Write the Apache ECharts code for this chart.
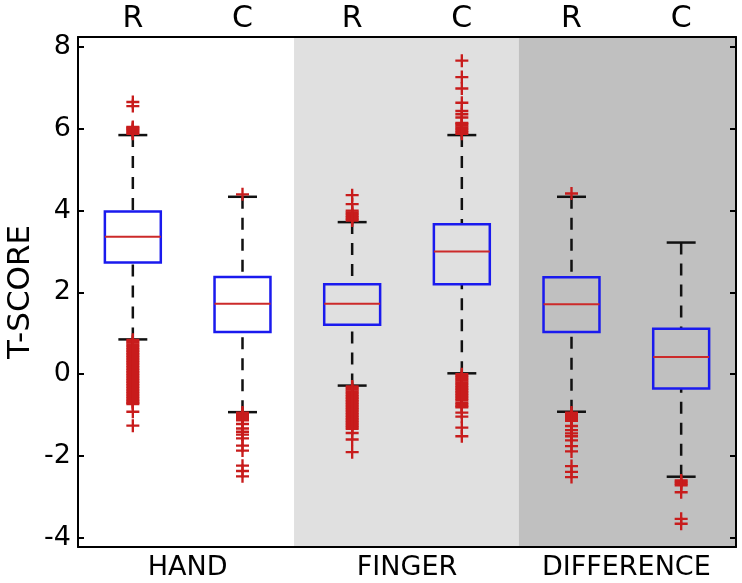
<!DOCTYPE html>
<html>
<head>
<meta charset="utf-8">
<script src="https://cdn.jsdelivr.net/npm/echarts@6/dist/echarts.min.js"></script>
<style>html,body{margin:0;padding:0;background:#fff}#chart{width:742px;height:583px}</style>
</head>
<body>
<div id="chart"></div>
<script>
// ---- data ----
const categories = ['HAND R', 'HAND C', 'FINGER R', 'FINGER C', 'DIFFERENCE R', 'DIFFERENCE C'];
const topLabels = ['R', 'C', 'R', 'C', 'R', 'C'];
const groupLabels = ['HAND', 'FINGER', 'DIFFERENCE'];
const yTicks = [-4, -2, 0, 2, 4, 6, 8];

const lowWhisker  = [0.85, -0.93, -0.28, 0.02, -0.92, -2.51];
const q1          = [2.73,  1.03,  1.21, 2.20,  1.03, -0.35];
const median      = [3.36,  1.72,  1.72, 3.00,  1.71,  0.42];
const q3          = [3.98,  2.38,  2.20, 3.67,  2.37,  1.11];
const highWhisker = [5.85,  4.34,  3.72, 5.85,  4.34,  3.22];

const outliersHandR = [5.88, 5.91, 5.94, 5.97, 6.00, 6.03, 6.05, 6.56, 6.66,
  0.84, 0.80, 0.77, 0.73, 0.69, 0.65, 0.61, 0.57, 0.53, 0.49, 0.45, 0.41, 0.37, 0.33,
  0.29, 0.25, 0.21, 0.17, 0.13, 0.09, 0.05, 0.01, -0.03, -0.07, -0.11, -0.15, -0.19,
  -0.23, -0.27, -0.31, -0.35, -0.39, -0.43, -0.47, -0.51, -0.55, -0.59, -0.63, -0.67,
  -0.70, -0.73, -0.92, -1.26];
const outliersHandC = [4.40, -0.94, -0.98, -1.02, -1.06, -1.10, -1.13, -1.22, -1.33,
  -1.41, -1.48, -1.57, -1.75, -1.87, -2.24, -2.37, -2.50];
const outliersFingerR = [3.76, 3.80, 3.84, 3.88, 3.92, 3.96, 4.00, 4.16, 4.38,
  -0.30, -0.34, -0.38, -0.42, -0.46, -0.50, -0.54, -0.58, -0.62, -0.66, -0.70, -0.74,
  -0.78, -0.82, -0.86, -0.90, -0.94, -0.98, -1.02, -1.06, -1.10, -1.14, -1.18, -1.22,
  -1.26, -1.30, -1.34, -1.44, -1.60, -1.91];
const outliersFingerC = [5.88, 5.92, 5.96, 6.00, 6.04, 6.08, 6.12, 6.15, 6.28, 6.36,
  6.44, 6.64, 6.99, 7.27, 7.67,
  0.00, -0.04, -0.08, -0.12, -0.16, -0.20, -0.24, -0.28, -0.32, -0.36, -0.40, -0.44,
  -0.48, -0.52, -0.56, -0.60, -0.64, -0.70, -0.74, -0.78, -0.81, -0.94, -1.04, -1.31, -1.52];
const outliersDiffR = [4.42, -0.94, -0.98, -1.02, -1.06, -1.10, -1.14, -1.27, -1.37,
  -1.45, -1.52, -1.62, -1.76, -1.89, -2.25, -2.39, -2.52];
const outliersDiffC = [-2.60, -2.64, -2.68, -2.72, -2.89, -3.54, -3.66];

const outlierLists = [outliersHandR, outliersHandC, outliersFingerR, outliersFingerC, outliersDiffR, outliersDiffC];

// background shading bands (in units of category slots, 0..6)
const bandStarts = [1.97, 4.02];
const bandEnds = [4.02, 6.0];
const bandColors = ['#e0e0e0', '#c0c0c0'];

// ---- build ----
const boxData = categories.map((c, i) => [i, lowWhisker[i], q1[i], median[i], q3[i], highWhisker[i]]);
const outlierData = [];
outlierLists.forEach((arr, i) => arr.forEach(v => outlierData.push([i, v])));
const bandData = bandStarts.map((s, i) => [s, bandEnds[i]]);

const FONT = 'DejaVu Sans';
const YMIN = -4.23, YMAX = 8.25;
const PLUS = 'path://M4.1,0H5.9V4.1H10V5.9H5.9V10H4.1V5.9H0V4.1H4.1Z';

const chart = echarts.init(document.getElementById('chart'), null, {renderer: 'canvas'});
chart.setOption({
  backgroundColor: '#ffffff',
  animation: false,
  grid: {left: 78, right: 6, top: 37, bottom: 36, containLabel: false, outerBoundsMode: 'none'},
  xAxis: [
    {
      type: 'category', data: categories, position: 'top', boundaryGap: true,
      axisLine: {show: true, onZero: false, lineStyle: {color: '#000', width: 2}},
      axisTick: {show: false},
      axisLabel: {interval: 0, hideOverlap: false, formatter: (v, i) => topLabels[i], fontFamily: FONT, fontSize: 30, color: '#000', margin: 3},
      splitLine: {show: false}
    },
    {
      type: 'category', data: groupLabels, position: 'bottom', boundaryGap: true,
      axisLine: {show: true, onZero: false, lineStyle: {color: '#000', width: 2}},
      axisTick: {show: false},
      axisLabel: {interval: 0, hideOverlap: false, fontFamily: FONT, fontSize: 27, color: '#000', margin: 7},
      splitLine: {show: false}
    },
    {
      type: 'value', min: 0, max: 6, show: false,
      axisLine: {onZero: false}
    }
  ],
  yAxis: [
    {
      type: 'value', min: YMIN, max: YMAX, position: 'left',
      name: 'T-SCORE', nameLocation: 'middle', nameGap: 42, nameRotate: 90, nameMoveOverlap: false,
      nameTextStyle: {fontFamily: FONT, fontSize: 31, color: '#000'},
      axisLine: {show: true, onZero: false, lineStyle: {color: '#000', width: 2}},
      axisTick: {show: true, inside: true, length: 6, customValues: yTicks, lineStyle: {color: '#000', width: 2}},
      axisLabel: {customValues: yTicks, fontFamily: FONT, fontSize: 27, color: '#000', margin: 7},
      splitLine: {show: false}
    },
    {
      type: 'value', min: YMIN, max: YMAX, position: 'right',
      axisLine: {show: true, onZero: false, lineStyle: {color: '#000', width: 2}},
      axisTick: {show: true, inside: true, length: 6, customValues: yTicks, lineStyle: {color: '#000', width: 2}},
      axisLabel: {show: false},
      splitLine: {show: false}
    }
  ],
  series: [
    {
      type: 'custom', xAxisIndex: 2, yAxisIndex: 0, z: -1, silent: true,
      data: bandData,
      renderItem: function (params, api) {
        const cs = params.coordSys;
        const x0 = api.coord([api.value(0), 0])[0];
        const x1 = api.coord([api.value(1), 0])[0];
        return {
          type: 'rect',
          shape: {x: x0, y: cs.y, width: x1 - x0, height: cs.height},
          style: {fill: bandColors[params.dataIndex]}
        };
      }
    },
    {
      type: 'custom', xAxisIndex: 0, yAxisIndex: 0, z: 3,
      data: boxData,
      renderItem: function (params, api) {
        const i = api.value(0);
        const bw = api.size([1, 0])[0];
        const pLW = api.coord([i, api.value(1)]);
        const pQ1 = api.coord([i, api.value(2)]);
        const pMd = api.coord([i, api.value(3)]);
        const pQ3 = api.coord([i, api.value(4)]);
        const pHW = api.coord([i, api.value(5)]);
        const cx = pQ1[0];
        const hb = bw * 0.255, hc = bw * 0.132;
        const dash = {stroke: '#111', lineWidth: 2.5, lineDash: [12, 9]};
        const solid = {stroke: '#111', lineWidth: 2.5};
        return {
          type: 'group',
          children: [
            {type: 'line', shape: {x1: cx, y1: pLW[1], x2: cx, y2: pQ1[1]}, style: dash},
            {type: 'line', shape: {x1: cx, y1: pHW[1], x2: cx, y2: pQ3[1]}, style: dash},
            {type: 'line', shape: {x1: cx - hc, y1: pLW[1], x2: cx + hc, y2: pLW[1]}, style: solid},
            {type: 'line', shape: {x1: cx - hc, y1: pHW[1], x2: cx + hc, y2: pHW[1]}, style: solid},
            {type: 'rect', shape: {x: cx - hb, y: pQ3[1], width: 2 * hb, height: pQ1[1] - pQ3[1]},
              style: {fill: 'none', stroke: '#1a1aee', lineWidth: 2.5}},
            {type: 'line', shape: {x1: cx - hb, y1: pMd[1], x2: cx + hb, y2: pMd[1]},
              style: {stroke: '#cc2a2a', lineWidth: 2}}
          ]
        };
      }
    },
    {
      type: 'scatter', xAxisIndex: 0, yAxisIndex: 0, z: 4,
      data: outlierData,
      symbol: PLUS, symbolSize: 13,
      itemStyle: {color: '#c81c1c', opacity: 1}
    }
  ]
});
</script>
</body>
</html>
